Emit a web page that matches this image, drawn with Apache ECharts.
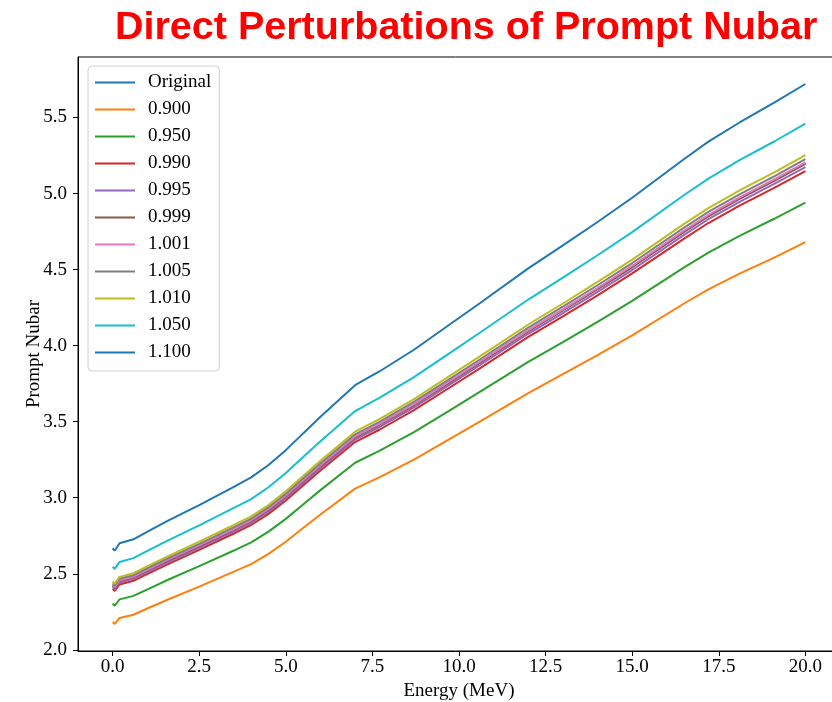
<!DOCTYPE html>
<html>
<head>
<meta charset="utf-8">
<script src="https://cdn.jsdelivr.net/npm/echarts@6/dist/echarts.min.js"></script>
<style>
html,body{margin:0;padding:0;background:#fff;overflow:hidden;}
#chart{width:832px;height:702px;}
</style>
</head>
<body>
<div id="chart"></div>
<script>
// Energy grid (MeV)
var energy = [0, 0.06, 0.2, 0.6, 1.1, 1.6, 2.5, 3.5, 4.0, 4.5, 5.0, 5.5, 6.0, 7.0, 7.7, 8.7, 9.7, 10.6, 12.0, 13.0, 14.0, 15.0, 16.5, 17.2, 18.1, 19.1, 20.0];

var nuOriginal = [2.425, 2.411, 2.455, 2.479, 2.535, 2.590, 2.684, 2.793, 2.849, 2.923, 3.012, 3.112, 3.211, 3.400, 3.482, 3.612, 3.758, 3.890, 4.098, 4.235, 4.375, 4.520, 4.752, 4.855, 4.970, 5.088, 5.200];
var nu0900 = [2.183, 2.170, 2.210, 2.231, 2.282, 2.331, 2.416, 2.514, 2.564, 2.631, 2.711, 2.801, 2.890, 3.060, 3.134, 3.251, 3.382, 3.501, 3.688, 3.812, 3.938, 4.068, 4.277, 4.370, 4.473, 4.579, 4.680];
var nu0950 = [2.304, 2.290, 2.332, 2.355, 2.408, 2.461, 2.550, 2.653, 2.707, 2.777, 2.861, 2.956, 3.050, 3.230, 3.308, 3.431, 3.570, 3.696, 3.893, 4.023, 4.156, 4.294, 4.514, 4.612, 4.722, 4.834, 4.940];
var nu0990 = [2.401, 2.387, 2.430, 2.454, 2.510, 2.564, 2.657, 2.765, 2.821, 2.894, 2.982, 3.081, 3.179, 3.366, 3.447, 3.576, 3.720, 3.851, 4.057, 4.193, 4.331, 4.475, 4.704, 4.806, 4.920, 5.037, 5.148];
var nu0995 = [2.413, 2.399, 2.443, 2.467, 2.522, 2.577, 2.671, 2.779, 2.835, 2.908, 2.997, 3.096, 3.195, 3.383, 3.465, 3.594, 3.739, 3.871, 4.078, 4.214, 4.353, 4.497, 4.728, 4.831, 4.945, 5.063, 5.174];
var nu0999 = [2.423, 2.409, 2.453, 2.477, 2.532, 2.587, 2.681, 2.790, 2.846, 2.920, 3.009, 3.109, 3.208, 3.397, 3.479, 3.608, 3.754, 3.886, 4.094, 4.231, 4.371, 4.515, 4.747, 4.850, 4.965, 5.083, 5.195];
var nu1001 = [2.427, 2.413, 2.457, 2.481, 2.538, 2.593, 2.687, 2.796, 2.852, 2.926, 3.015, 3.115, 3.214, 3.403, 3.485, 3.616, 3.762, 3.894, 4.102, 4.239, 4.379, 4.525, 4.757, 4.860, 4.975, 5.093, 5.205];
var nu1005 = [2.437, 2.423, 2.467, 2.491, 2.548, 2.603, 2.697, 2.807, 2.863, 2.938, 3.027, 3.128, 3.227, 3.417, 3.499, 3.630, 3.777, 3.909, 4.118, 4.256, 4.397, 4.543, 4.776, 4.879, 4.995, 5.113, 5.226];
var nu1010 = [2.449, 2.435, 2.480, 2.504, 2.560, 2.616, 2.711, 2.821, 2.877, 2.952, 3.042, 3.143, 3.243, 3.434, 3.517, 3.648, 3.796, 3.929, 4.139, 4.277, 4.419, 4.565, 4.800, 4.904, 5.020, 5.139, 5.252];
var nu1050 = [2.546, 2.532, 2.578, 2.603, 2.662, 2.720, 2.818, 2.933, 2.991, 3.069, 3.163, 3.268, 3.372, 3.570, 3.656, 3.793, 3.946, 4.085, 4.303, 4.447, 4.594, 4.746, 4.990, 5.098, 5.219, 5.342, 5.460];
var nu1100 = [2.668, 2.652, 2.701, 2.727, 2.789, 2.849, 2.952, 3.072, 3.134, 3.215, 3.313, 3.423, 3.532, 3.740, 3.830, 3.973, 4.134, 4.279, 4.508, 4.659, 4.813, 4.972, 5.227, 5.341, 5.467, 5.597, 5.720];

var seriesNames = ['Original', '0.900', '0.950', '0.990', '0.995', '0.999', '1.001', '1.005', '1.010', '1.050', '1.100'];
var seriesValues = [nuOriginal, nu0900, nu0950, nu0990, nu0995, nu0999, nu1001, nu1005, nu1010, nu1050, nu1100];
var colors = ['#1f77b4', '#ff7f0e', '#2ca02c', '#d62728', '#9467bd', '#8c564b', '#e377c2', '#7f7f7f', '#bcbd22', '#17becf', '#1f77b4'];

var xTicks = [0, 2.5, 5, 7.5, 10, 12.5, 15, 17.5, 20];
var yTicks = [2.0, 2.5, 3.0, 3.5, 4.0, 4.5, 5.0, 5.5];

var serif = '"Liberation Serif", "DejaVu Serif", serif';

var series = seriesNames.map(function (name, i) {
  return {
    name: name,
    type: 'line',
    showSymbol: false,
    symbol: 'none',
    lineStyle: { width: 2, color: colors[i] },
    itemStyle: { color: colors[i] },
    data: energy.map(function (e, k) { return [e, seriesValues[i][k]]; }),
    z: 2 + i
  };
});

var chart = echarts.init(document.getElementById('chart'), null, { renderer: 'canvas' });
chart.setOption({
  animation: false,
  backgroundColor: '#fff',
  title: {
    text: 'Direct Perturbations of Prompt Nubar',
    left: 110,
    top: 3,
    textStyle: {
      color: '#ff0000',
      fontFamily: '"Liberation Sans", Arial, sans-serif',
      fontWeight: 'bold',
      fontSize: 39.5
    }
  },
  grid: {
    left: 78, top: 57, height: 594, width: 762,
    outerBoundsMode: 'none',
    containLabel: false,
    show: true, borderColor: '#000', borderWidth: 1
  },
  legend: {
    orient: 'vertical',
    left: 88, top: 66,
    padding: [7, 8, 9, 7],
    backgroundColor: '#fff',
    borderColor: '#d0d0d0',
    borderWidth: 1,
    borderRadius: 4,
    icon: 'rect',
    itemWidth: 40,
    itemHeight: 2,
    itemGap: 8,
    textStyle: { fontFamily: serif, fontSize: 19, color: '#000', lineHeight: 18, padding: [0, 0, 0, 8] },
    data: seriesNames
  },
  xAxis: {
    type: 'value',
    min: -1, max: 21,
    name: 'Energy (MeV)',
    nameLocation: 'middle',
    nameGap: 31,
    nameMoveOverlap: false,
    nameTextStyle: { fontFamily: serif, fontSize: 19, color: '#000' },
    axisLine: { show: true, onZero: false, lineStyle: { color: '#000', width: 1 } },
    axisTick: { show: true, length: 5, lineStyle: { color: '#000' }, customValues: xTicks },
    axisLabel: {
      fontFamily: serif, fontSize: 19, color: '#000', margin: 7,
      customValues: xTicks,
      formatter: function (v) { return v.toFixed(1); }
    },
    splitLine: { show: false }
  },
  yAxis: {
    type: 'value',
    min: 1.9925, max: 5.8975,
    name: 'Prompt Nubar',
    nameLocation: 'middle',
    nameGap: 34,
    nameMoveOverlap: false,
    nameTextStyle: { fontFamily: serif, fontSize: 19, color: '#000' },
    axisLine: { show: true, onZero: false, lineStyle: { color: '#000', width: 1 } },
    axisTick: { show: true, length: 5, lineStyle: { color: '#000' }, customValues: yTicks },
    axisLabel: {
      fontFamily: serif, fontSize: 19, color: '#000', margin: 11,
      customValues: yTicks,
      formatter: function (v) { return v.toFixed(1); }
    },
    splitLine: { show: false }
  },
  series: series
});
</script>
</body>
</html>
